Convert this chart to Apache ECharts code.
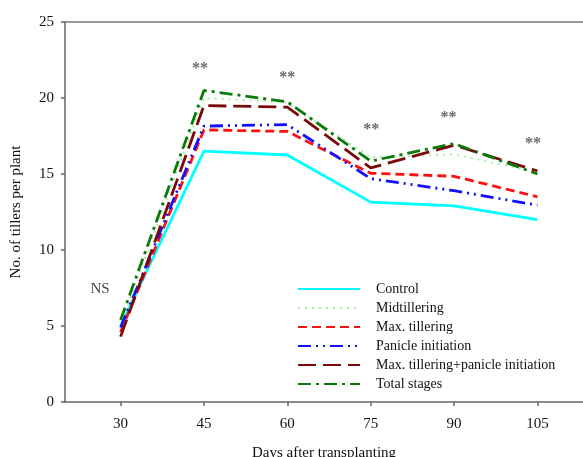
<!DOCTYPE html>
<html>
<head>
<meta charset="utf-8">
<script src="https://cdn.jsdelivr.net/npm/echarts@6/dist/echarts.min.js"></script>
<style>
  html, body { margin: 0; padding: 0; background: #fff; }
  #chart { width: 583px; height: 457px; }
</style>
</head>
<body>
<div id="chart"></div>
<script>
// days after transplanting
const days = [30, 45, 60, 75, 90, 105];

// tillers per plant
const control = [5.0, 16.5, 16.25, 13.15, 12.9, 12.0];
const midtillering = [5.1, 20.0, 19.7, 16.1, 16.3, 15.1];
const maxTillering = [4.6, 17.9, 17.8, 15.05, 14.85, 13.5];
const panicleInit = [4.9, 18.15, 18.25, 14.7, 13.9, 12.95];
const maxPlusPanicle = [4.3, 19.5, 19.4, 15.4, 16.9, 15.2];
const totalStages = [5.4, 20.5, 19.75, 15.85, 17.0, 15.0];

// significance marks
const sigX = [26.3, 44.3, 60.0, 75.1, 89.0, 104.2];
const sigY = [7.4, 21.9, 21.3, 17.9, 18.7, 17.0];
const sigText = ["NS", "**", "**", "**", "**", "**"];

const yTicks = [0, 5, 10, 15, 20, 25];

const font = "Liberation Serif";

function pairs(vals) {
    return days.map((d, i) => [d, vals[i]]);
}

const chart = echarts.init(document.getElementById("chart"));

function lineSeries(name, vals, color, type, width) {
    return {
        name: name,
        type: "line",
        data: pairs(vals),
        symbol: "none",
        lineStyle: { color: color, type: type, width: width },
        itemStyle: { color: color }
    };
}

const option = {
    animation: false,
    backgroundColor: "#fff",
    textStyle: { fontFamily: font },
    grid: { left: 65, right: 0, top: 22, bottom: 55, outerBoundsMode: "none" },
    legend: {
        orient: "vertical",
        left: 292,
        top: 277,
        itemWidth: 62,
        itemHeight: 14,
        itemGap: 5,
        itemStyle: { opacity: 0 },
        data: ["Control", "Midtillering", "Max. tillering", "Panicle initiation",
            "Max. tillering+panicle initiation", "Total stages"],
        textStyle: { fontFamily: font, fontSize: 14, color: "#111", padding: [0, 0, 0, 11] }
    },
    xAxis: [
        {
            type: "value",
            min: 20,
            max: 113.2,
            name: "Days after transplanting",
            nameLocation: "middle",
            nameGap: 44,
            nameTextStyle: { fontFamily: font, fontSize: 15, color: "#111" },
            axisLine: { lineStyle: { color: "#666", width: 1.5 } },
            axisTick: { customValues: days, length: 4, lineStyle: { color: "#666", width: 1.5 } },
            axisLabel: { customValues: days, margin: 15, fontFamily: font, fontSize: 15, color: "#111" },
            splitLine: { show: false }
        },
        {
            type: "value",
            position: "top",
            min: 20,
            max: 113.2,
            axisLine: { show: true, lineStyle: { color: "#777", width: 1.5 } },
            axisTick: { show: false },
            axisLabel: { show: false },
            splitLine: { show: false }
        }
    ],
    yAxis: {
        type: "value",
        min: 0,
        max: 25,
        interval: 5,
        name: "No. of tillers per plant",
        nameLocation: "middle",
        nameGap: 41,
        nameTextStyle: { fontFamily: font, fontSize: 15, color: "#111" },
        axisLine: { show: true, lineStyle: { color: "#666", width: 1.5 } },
        axisTick: { show: true, customValues: yTicks, length: 4, lineStyle: { color: "#666", width: 1.5 } },
        axisLabel: { customValues: yTicks, margin: 11, fontFamily: font, fontSize: 15, color: "#111" },
        splitLine: { show: false }
    },
    series: [
        lineSeries("Control", control, "#00ffff", "solid", 2.8),
        lineSeries("Midtillering", midtillering, "#a8eca8", [2, 5], 2),
        lineSeries("Max. tillering", maxTillering, "#ff1010", [9, 5], 2.8),
        lineSeries("Panicle initiation", panicleInit, "#1010ff", [13, 5, 2, 5, 2, 5], 2.8),
        lineSeries("Max. tillering+panicle initiation", maxPlusPanicle, "#7a0a0a", [18, 7], 2.8),
        lineSeries("Total stages", totalStages, "#0a7a0a", [13, 5, 3, 5], 2.8),
        {
            name: "sig",
            type: "scatter",
            xAxisIndex: 0,
            symbolSize: 0,
            data: sigX.map((x, i) => {
                const item = { value: [x, sigY[i]], name: sigText[i] };
                if (sigText[i] === "NS") {
                    item.label = { fontWeight: "normal", color: "#111", fontSize: 15 };
                }
                return item;
            }),
            label: {
                show: true,
                position: "inside",
                formatter: p => p.name,
                fontFamily: font,
                fontSize: 16,
                fontWeight: "bold",
                color: "#444"
            },
            z: 10
        }
    ]
};

chart.setOption(option);
</script>
</body>
</html>
